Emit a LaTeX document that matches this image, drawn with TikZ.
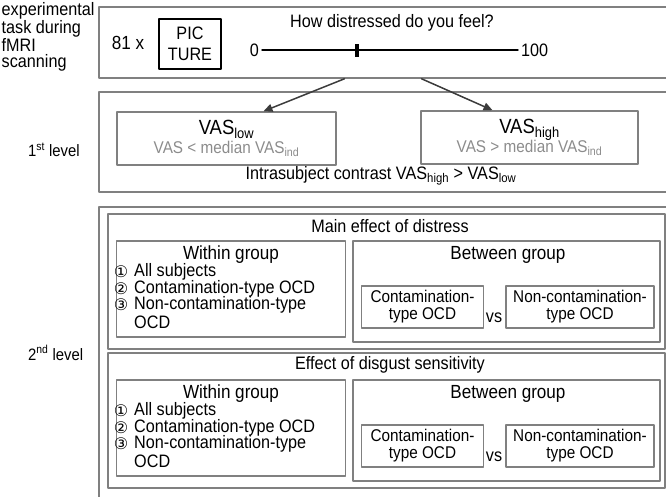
\documentclass[tikz,border=0pt]{standalone}
\usepackage{fontspec}
\setmainfont{Liberation Sans}[FakeStretch=0.9]
\newfontfamily\circfont{DejaVu Sans}
\usetikzlibrary{arrows.meta}
\definecolor{boxgray}{RGB}{128,128,128}
\definecolor{subgray}{RGB}{140,140,140}
\definecolor{arrgray}{RGB}{60,60,60}
\tikzset{
  panel/.style 2 args={draw=boxgray,line width=1.5pt,minimum width=#1,minimum height=#2,inner sep=0pt},
  lbl/.style={inner sep=0pt},
  groupbox/.style 2 args={panel={#1}{#2},line width=1.3pt,align=center,font=\fontsize{17}{17}\selectfont},
}
\begin{document}
\begin{tikzpicture}[x=1pt,y=-1pt,line cap=round,line join=round,>={Triangle[length=9pt,width=8pt]},font=\fontsize{18}{19}\selectfont]
\useasboundingbox (0,0) rectangle (666,497);
% task during scanning
\node[lbl,anchor=west,align=left,font=\fontsize{18}{16.7}\selectfont] (tasklabel) at (1.5,37) {experimental\\task during\\fMRI\\scanning};
\node[panel={581}{71}] (taskbox) at (389.5,42.5) {};
\node[lbl,font=\fontsize{19}{19}\selectfont] (times) at (128,43) {81 x};
\node[panel={62}{50},draw=black,line width=1.6pt,align=center,font=\fontsize{18}{21}\selectfont] (picture) at (190,44) {PIC\\TURE};
\node[lbl] (question) at (392,23) {How distressed do you feel?};
\node[lbl,anchor=east] (vasmin) at (259,50) {0};
\node[lbl,anchor=west] (vasmax) at (521,50) {100};
\draw[line width=1.4pt,shorten <=3pt,shorten >=3pt] (vasmin.east) -- (vasmax.west);
\node[fill=black,minimum width=4,minimum height=13,inner sep=0pt] (slider) at (357,50.5) {};
% 1st level
\node[lbl,anchor=west,font=\fontsize{16.5}{18}\selectfont] (firstlevel) at (28,150) {1\textsuperscript{st} level};
\node[panel={581}{100}] (firstbox) at (389.5,142) {};
\node[panel={219}{53},align=center] (vaslow) at (226.5,138.5) {{\fontsize{20.5}{20}\selectfont VAS\textsubscript{low}}\\{\color{subgray}\fontsize{17}{18}\selectfont VAS < median VAS\textsubscript{ind}}};
\node[panel={217}{53},align=center] (vashigh) at (529.5,137.5) {{\fontsize{20.5}{20}\selectfont VAS\textsubscript{high}}\\{\color{subgray}\fontsize{17}{18}\selectfont VAS > median VAS\textsubscript{ind}}};
\draw[->,arrgray,line width=1.5pt] ([xshift=-45pt]taskbox.south) -- ([xshift=37pt]vaslow.north);
\draw[->,arrgray,line width=1.5pt] ([xshift=32pt]taskbox.south) -- ([xshift=-37pt]vashigh.north);
\node[lbl] (contrast) at (381,176) {Intrasubject contrast VAS\textsubscript{high} > VAS\textsubscript{low}};
% 2nd level
\node[lbl,anchor=west,font=\fontsize{16.5}{18}\selectfont] (secondlevel) at (28,353) {2\textsuperscript{nd} level};
\node[panel={581}{303}] (secondbox) at (389.5,358.5) {};
\foreach \dy/\nm/\ttl in {0/dist/Main effect of distress, 139/disg/Effect of disgust sensitivity}{
  \node[panel={557}{135}] (\nm) at (386.5,281.5+\dy) {};
  \node[lbl] (\nm-title) at (390,226+\dy) {\ttl};
  % within group
  \node[panel={229}{96}] (\nm-within) at (231,289+\dy) {};
  \node[lbl,font=\fontsize{19}{19}\selectfont] (\nm-wtitle) at (231,255+\dy) {Within group};
  \foreach \num/\itm [count=\i from 0] in {①/All subjects, ②/Contamination-type OCD, ③/Non-contamination-type}{
    \node[lbl,font=\circfont\fontsize{16}{16}\selectfont] (\nm-num\i) at (121,272+16.5*\i+\dy) {\num};
    \node[lbl,anchor=west] (\nm-item\i) at (134,272+16.5*\i+\dy) {\itm};
  }
  \node[lbl,anchor=west] (\nm-item3) at (134,322+\dy) {OCD};
  % between group
  \node[panel={307}{101}] (\nm-between) at (506.5,291.5+\dy) {};
  \node[lbl,font=\fontsize{19}{19}\selectfont] (\nm-btitle) at (508,255+\dy) {Between group};
  \node[groupbox={122}{42}] (\nm-contam) at (422.5,307+\dy) {Contamination-\\type OCD};
  \node[lbl] (\nm-vs) at (494,318+\dy) {vs};
  \node[groupbox={148}{42}] (\nm-noncontam) at (580,307+\dy) {Non-contamination-\\type OCD};
}
\end{tikzpicture}
\end{document}
